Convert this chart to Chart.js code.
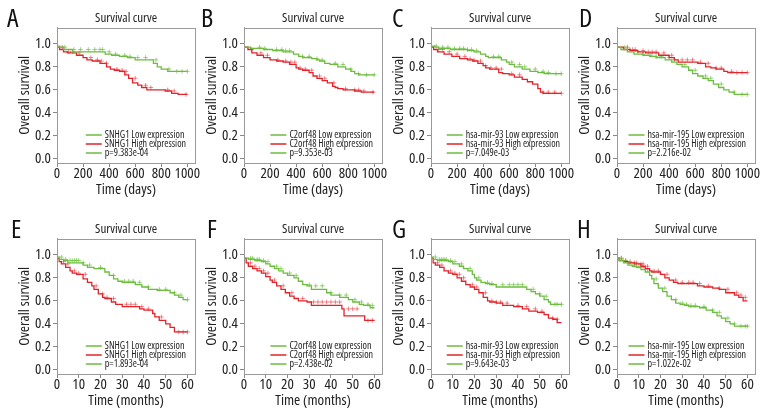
<!DOCTYPE html>
<html>
<head>
<meta charset="utf-8">
<script src="https://cdn.jsdelivr.net/npm/chart.js@4.4.0/dist/chart.umd.min.js"></script>
<style>
  body { margin: 0; background: #fff; }
  #wrap { position: relative; width: 780px; height: 420px; overflow: hidden; }
  .panel { position: absolute; width: 200px; height: 210px; }
  .letter { position: absolute; font-family: 'Open Sans', sans-serif; font-stretch: condensed; font-size: 26px; color: #111; line-height: 1; }
</style>
</head>
<body>
<div id="wrap"></div>
<script>
var FONT = "'Open Sans', sans-serif";
var GREEN = '#6cbd3f';
var RED = '#e2232a';

var dayTicks = [0, 200, 400, 600, 800, 1000];
var monthTicks = [0, 10, 20, 30, 40, 50, 60];
var survTicks = [0.0, 0.2, 0.4, 0.6, 0.8, 1.0];

// [time, survival] steps
var snhg1DaysLow = [[0,1],[20,0.98],[50,0.97],[120,0.95],[370,0.93],[420,0.91],[480,0.90],[540,0.89],[600,0.88],[740,0.86],[770,0.83],[800,0.80],[850,0.78],[880,0.76],[1000,0.76]];
var snhg1DaysHigh = [[0,1],[20,0.97],[50,0.95],[80,0.93],[150,0.92],[200,0.90],[230,0.88],[270,0.86],[330,0.85],[380,0.83],[410,0.80],[440,0.78],[480,0.77],[520,0.76],[550,0.73],[580,0.70],[620,0.66],[650,0.64],[690,0.62],[830,0.60],[880,0.59],[930,0.57],[960,0.56],[1000,0.56]];
var c2orf48DaysLow = [[0,1],[50,0.97],[150,0.96],[220,0.95],[300,0.94],[380,0.93],[420,0.91],[450,0.89],[520,0.88],[560,0.87],[580,0.86],[620,0.85],[660,0.83],[720,0.82],[780,0.80],[820,0.78],[850,0.76],[880,0.74],[900,0.73],[1000,0.73]];
var c2orf48DaysHigh = [[0,1],[30,0.97],[60,0.95],[100,0.92],[150,0.90],[200,0.88],[250,0.86],[300,0.85],[350,0.84],[400,0.82],[420,0.79],[450,0.78],[500,0.77],[530,0.75],[560,0.72],[600,0.70],[640,0.68],[680,0.66],[700,0.63],[720,0.62],[760,0.61],[850,0.60],[900,0.59],[950,0.58],[1000,0.58]];
var mir93DaysLow = [[0,1],[30,0.98],[60,0.97],[150,0.96],[280,0.95],[330,0.94],[380,0.93],[420,0.91],[440,0.89],[540,0.88],[580,0.86],[600,0.84],[640,0.82],[700,0.80],[760,0.78],[820,0.76],[870,0.75],[940,0.74],[1000,0.74]];
var mir93DaysHigh = [[0,1],[20,0.97],[50,0.95],[100,0.93],[160,0.91],[220,0.89],[280,0.87],[320,0.86],[360,0.85],[400,0.83],[420,0.81],[450,0.79],[520,0.78],[550,0.75],[600,0.74],[640,0.73],[700,0.71],[740,0.69],[780,0.67],[820,0.65],[840,0.61],[860,0.58],[960,0.57],[1000,0.57]];
var mir195DaysLow = [[0,1],[30,0.97],[80,0.95],[130,0.93],[200,0.91],[250,0.90],[300,0.89],[370,0.88],[420,0.86],[460,0.84],[500,0.82],[550,0.80],[580,0.77],[620,0.74],[660,0.72],[700,0.70],[740,0.68],[780,0.65],[820,0.62],[860,0.60],[900,0.58],[940,0.56],[1000,0.56]];
var mir195DaysHigh = [[0,1],[50,0.97],[100,0.95],[160,0.94],[220,0.93],[320,0.92],[400,0.90],[440,0.88],[470,0.86],[620,0.84],[680,0.83],[720,0.80],[760,0.79],[820,0.78],[850,0.76],[900,0.75],[1000,0.75]];

var snhg1MonthsLow = [[0,1],[1,0.98],[3,0.96],[5,0.95],[12,0.93],[14,0.91],[17,0.89],[22,0.88],[24,0.85],[26,0.82],[28,0.79],[30,0.77],[36,0.76],[39,0.74],[42,0.72],[46,0.70],[52,0.69],[54,0.67],[56,0.65],[58,0.63],[59.5,0.61],[60,0.61]];
var snhg1MonthsHigh = [[0,1],[1,0.97],[2,0.94],[4,0.92],[6,0.89],[7,0.86],[9,0.84],[12,0.83],[14,0.79],[16,0.76],[17,0.73],[19,0.70],[21,0.66],[22,0.63],[25,0.62],[27,0.59],[30,0.57],[38,0.55],[40,0.53],[44,0.52],[45,0.49],[47,0.46],[50,0.43],[52,0.40],[54,0.37],[55,0.33],[60,0.33]];
var c2orf48MonthsLow = [[0,1],[2,0.97],[5,0.96],[8,0.95],[10,0.94],[12,0.92],[14,0.90],[16,0.88],[18,0.86],[20,0.84],[23,0.82],[25,0.80],[27,0.77],[29,0.74],[31,0.73],[38,0.70],[40,0.67],[44,0.65],[48,0.63],[50,0.61],[53,0.59],[55,0.57],[58,0.56],[59.7,0.54],[60,0.54]];
var c2orf48MonthsHigh = [[0,1],[1,0.97],[2,0.93],[4,0.90],[6,0.88],[8,0.86],[10,0.84],[12,0.81],[13,0.78],[15,0.76],[17,0.73],[19,0.70],[21,0.67],[23,0.64],[25,0.62],[29,0.60],[31,0.59],[45,0.56],[46,0.53],[55.5,0.47],[56,0.43],[60,0.43]];
var mir93MonthsLow = [[0,1],[1,0.98],[3,0.96],[8,0.95],[10,0.94],[13,0.92],[15,0.90],[17,0.88],[19,0.86],[20,0.83],[21,0.80],[23,0.78],[25,0.76],[27,0.75],[30,0.74],[44,0.72],[46,0.70],[48,0.68],[50,0.66],[52,0.64],[54,0.61],[55,0.59],[56,0.57],[60,0.57]];
var mir93MonthsHigh = [[0,1],[1,0.97],[2,0.93],[4,0.91],[6,0.89],[8,0.86],[10,0.84],[12,0.83],[14,0.80],[16,0.77],[18,0.74],[20,0.72],[22,0.70],[24,0.67],[26,0.63],[27,0.60],[30,0.59],[33,0.58],[38,0.56],[42,0.55],[45,0.53],[49,0.51],[52,0.50],[54,0.48],[56,0.45],[58,0.44],[59.5,0.41],[60,0.41]];
var mir195MonthsLow = [[0,1],[1,0.97],[3,0.95],[5,0.93],[7,0.91],[9,0.90],[11,0.89],[13,0.87],[15,0.85],[16,0.82],[17,0.79],[19,0.75],[21,0.71],[23,0.68],[25,0.64],[27,0.61],[29,0.58],[31,0.57],[33,0.56],[38,0.55],[41,0.54],[44,0.52],[46,0.50],[48,0.47],[50,0.45],[52,0.42],[54,0.40],[55,0.38],[60,0.38]];
var mir195MonthsHigh = [[0,1],[1,0.97],[3,0.95],[5,0.94],[8,0.93],[11,0.92],[13,0.90],[15,0.88],[16,0.86],[20,0.85],[22,0.83],[24,0.80],[26,0.78],[28,0.76],[37,0.75],[40,0.73],[44,0.72],[47,0.71],[50,0.70],[54,0.67],[56,0.65],[58,0.63],[59.5,0.60],[60,0.60]];

// censoring times (+ marks)
var snhg1DaysLowCens = [60,130,180,240,290,330,350,400,450,520,560,620,680,760,860,920,960,1000];
var snhg1DaysHighCens = [40,90,120,170,260,310,340,380,460,500,530,600,680,720,850,900,990];
var c2orf48DaysLowCens = [120,160,250,290,320,350,450,500,560,600,700,760,820,880,940,1000];
var c2orf48DaysHighCens = [60,130,180,260,320,360,390,430,470,520,580,620,690,780,850,880,920,990];
var mir93DaysLowCens = [40,90,130,180,220,250,280,310,350,480,520,620,680,720,800,860,900,960,1000];
var mir93DaysHighCens = [60,90,140,200,260,300,330,380,420,460,500,540,620,680,860,900,950,1000];
var mir195DaysLowCens = [60,100,160,200,260,300,340,400,440,520,600,680,720,800,900,960,1000];
var mir195DaysHighCens = [80,120,140,200,240,270,300,360,420,500,540,580,640,700,760,800,880,920,960,1000];
var snhg1MonthsLowCens = [2,4,6,7,8,9,10,12,15,20,26,31,33,35,38,42,47,50,54,57,60];
var snhg1MonthsHighCens = [3,5,8,10,13,18,21,23,26,32,34,36,39,42,48,56,58,60];
var c2orf48MonthsLowCens = [3,4,6,7,9,11,15,17,21,24,30,33,36,40,44,47,51,54,57,59];
var c2orf48MonthsHighCens = [3,5,7,9,11,14,18,22,27,32,34,36,38,40,42,44,48,50,52,57,59];
var mir93MonthsLowCens = [2,4,5,6,7,9,11,14,18,22,26,28,33,36,38,40,42,47,50,53,57,58,60];
var mir93MonthsHighCens = [3,5,9,11,13,15,19,21,25,28,30,32,35,40,44,48,51,56,58];
var mir195MonthsLowCens = [2,4,6,8,10,12,14,18,22,27,30,32,34,36,40,44,47,51,54,57,59,60];
var mir195MonthsHighCens = [2,4,6,8,9,11,12,14,17,19,23,27,30,33,35,38,42,47,51,55,57,59];

var genes = ['SNHG1', 'C2orf48', 'hsa-mir-93', 'hsa-mir-195'];
var daysP = ['p=9.383e-04', 'p=9.353e-03', 'p=7.049e-03', 'p=2.216e-02'];
var monthsP = ['p=1.893e-04', 'p=2.438e-02', 'p=9.643e-03', 'p=1.022e-02'];

var panels = [
    {letter:'A', gene:0, unit:'days', low:snhg1DaysLow, high:snhg1DaysHigh, lowC:snhg1DaysLowCens, highC:snhg1DaysHighCens, p:daysP[0]},
    {letter:'B', gene:1, unit:'days', low:c2orf48DaysLow, high:c2orf48DaysHigh, lowC:c2orf48DaysLowCens, highC:c2orf48DaysHighCens, p:daysP[1]},
    {letter:'C', gene:2, unit:'days', low:mir93DaysLow, high:mir93DaysHigh, lowC:mir93DaysLowCens, highC:mir93DaysHighCens, p:daysP[2]},
    {letter:'D', gene:3, unit:'days', low:mir195DaysLow, high:mir195DaysHigh, lowC:mir195DaysLowCens, highC:mir195DaysHighCens, p:daysP[3]},
    {letter:'E', gene:0, unit:'months', low:snhg1MonthsLow, high:snhg1MonthsHigh, lowC:snhg1MonthsLowCens, highC:snhg1MonthsHighCens, p:monthsP[0]},
    {letter:'F', gene:1, unit:'months', low:c2orf48MonthsLow, high:c2orf48MonthsHigh, lowC:c2orf48MonthsLowCens, highC:c2orf48MonthsHighCens, p:monthsP[1]},
    {letter:'G', gene:2, unit:'months', low:mir93MonthsLow, high:mir93MonthsHigh, lowC:mir93MonthsLowCens, highC:mir93MonthsHighCens, p:monthsP[2]},
    {letter:'H', gene:3, unit:'months', low:mir195MonthsLow, high:mir195MonthsHigh, lowC:mir195MonthsLowCens, highC:mir195MonthsHighCens, p:monthsP[3]}
];

var panelLeft = [0, 187, 374, 560];
var panelTop = [0, 211];
var letterDx = [7, 14, 18, 19, 11, 20, 18, 17];

// survival value of a step curve at time t
function survAt(curve, t) {
    var s = 1;
    for (var i = 0; i < curve.length; i++) {
        if (curve[i][0] <= t) s = curve[i][1];
    }
    return s;
}

function cf(size) {
    // 'condensed' goes into the weight slot so the canvas font string gets font-stretch
    return {family: FONT, size: size, weight: 'condensed'};
}

var boxPlugin = {
    id: 'box',
    afterDraw: function(chart) {
        var a = chart.chartArea, ctx = chart.ctx;
        ctx.save();
        ctx.strokeStyle = '#9a9a9a';
        ctx.lineWidth = 1;
        ctx.strokeRect(Math.round(a.left) + 0.5, Math.round(a.top) + 0.5, Math.round(a.right - a.left), Math.round(a.bottom - a.top));
        ctx.restore();
    }
};

var kmLegend = {
    id: 'kmLegend',
    afterDatasetsDraw: function(chart, args, opts) {
        var a = chart.chartArea, ctx = chart.ctx;
        ctx.save();
        ctx.font = 'condensed 10px ' + FONT;
        ctx.textBaseline = 'middle';
        var w = 0;
        opts.items.forEach(function(it) { w = Math.max(w, ctx.measureText(it.text).width); });
        var tx = a.right - 9 - w;
        opts.items.forEach(function(it, i) {
            var y = a.bottom - 28 + i * 9;
            ctx.strokeStyle = it.color;
            ctx.lineWidth = 1.5;
            ctx.beginPath();
            ctx.moveTo(tx - 19, y);
            ctx.lineTo(tx - 3, y);
            ctx.stroke();
            ctx.fillStyle = '#222';
            ctx.fillText(it.text, tx, y);
        });
        ctx.restore();
    }
};

var wrap = document.getElementById('wrap');

panels.forEach(function(pn, idx) {
    var col = idx % 4, row = Math.floor(idx / 4);
    var div = document.createElement('div');
    div.className = 'panel';
    div.style.left = panelLeft[col] + 'px';
    div.style.top = panelTop[row] + 'px';
    var cv = document.createElement('canvas');
    cv.width = 200; cv.height = 210;
    div.appendChild(cv);
    var lt = document.createElement('div');
    lt.className = 'letter';
    lt.textContent = pn.letter;
    lt.style.left = letterDx[idx] + 'px';
    lt.style.top = '4px';
    div.appendChild(lt);
    wrap.appendChild(div);

    var days = pn.unit === 'days';
    var xTicks = days ? dayTicks : monthTicks;
    var gene = genes[pn.gene];

    new Chart(cv, {
        type: 'scatter',
        data: {
            datasets: [
                {data: pn.low.map(function(d) { return {x: d[0], y: d[1]}; }), showLine: true, stepped: 'after', borderColor: GREEN, borderWidth: 1.3, pointRadius: 0},
                {data: pn.high.map(function(d) { return {x: d[0], y: d[1]}; }), showLine: true, stepped: 'after', borderColor: RED, borderWidth: 1.3, pointRadius: 0},
                {data: pn.lowC.map(function(t) { return {x: t, y: survAt(pn.low, t)}; }), showLine: false, pointStyle: 'cross', pointRadius: 2.3, borderColor: 'rgba(108,189,63,0.75)', borderWidth: 0.9},
                {data: pn.highC.map(function(t) { return {x: t, y: survAt(pn.high, t)}; }), showLine: false, pointStyle: 'cross', pointRadius: 2.3, borderColor: 'rgba(226,35,42,0.6)', borderWidth: 0.9}
            ]
        },
        options: {
            responsive: false,
            animation: false,
            layout: {padding: {left: 0, right: 3, top: 0, bottom: 11}},
            plugins: {
                legend: {display: false},
                tooltip: {enabled: false},
                title: {display: true, text: 'Survival curve', fullSize: false, color: '#222', font: cf(13), padding: {top: 10, bottom: 2}},
                kmLegend: {items: [
                    {color: GREEN, text: gene + ' Low expression'},
                    {color: RED, text: gene + ' High expression'},
                    {color: GREEN, text: pn.p}
                ]}
            },
            scales: {
                x: {
                    type: 'linear', min: 0, max: days ? 1060 : 63.5,
                    afterBuildTicks: function(s) { s.ticks = xTicks.map(function(v) { return {value: v}; }); },
                    afterFit: function(s) { s.height = 36; },
                    grid: {drawOnChartArea: false, drawTicks: true, tickLength: 4, color: '#888'},
                    border: {display: true, color: '#9a9a9a'},
                    ticks: {color: '#222', font: cf(15), padding: -2, maxRotation: 0, autoSkip: false, callback: function(v) { return String(v); }},
                    title: {display: true, text: days ? 'Time (days)' : 'Time (months)', color: '#222', font: cf(15), padding: {top: 0, bottom: 0}}
                },
                y: {
                    type: 'linear', min: -0.035, max: 1.14,
                    afterBuildTicks: function(s) { s.ticks = survTicks.map(function(v) { return {value: v}; }); },
                    afterFit: function(s) { s.width = 57; },
                    grid: {drawOnChartArea: false, drawTicks: true, tickLength: 4, color: '#888'},
                    border: {display: true, color: '#9a9a9a'},
                    ticks: {color: '#222', font: cf(15), padding: 2, callback: function(v) { return v.toFixed(1); }},
                    title: {display: true, text: 'Overall survival', color: '#222', font: cf(15), padding: {top: 16, bottom: 0}}
                }
            }
        },
        plugins: [boxPlugin, kmLegend]
    });
});
</script>
</body>
</html>
